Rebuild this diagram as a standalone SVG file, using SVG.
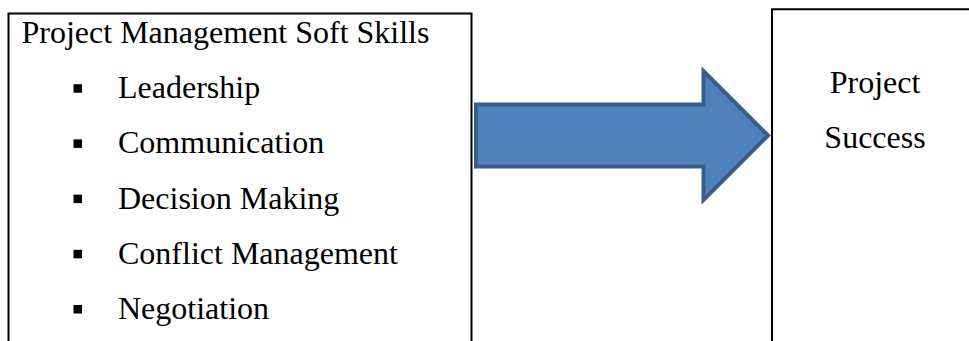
<svg xmlns="http://www.w3.org/2000/svg" width="969" height="341" viewBox="0 0 969 341">
  <style>
    .frame { fill: none; stroke: #000; stroke-width: 2; }
    .label { font-family: "Liberation Serif", "Times New Roman", serif; font-size: 32px; fill: #000; }
    .center { text-anchor: middle; }
    .bullet { fill: #000; }
    .arrow { fill: #4F81BD; stroke: #385D8A; stroke-width: 4; stroke-linejoin: miter; }
  </style>
  <rect width="969" height="341" fill="#fff"/>

  <!-- Skills box: open at the bottom -->
  <g id="soft-skills">
    <path class="frame" d="M8.5,345 V13.5 H471.5 V345"/>
    <text class="label" x="21.5" y="43">Project Management Soft Skills</text>
    <rect class="bullet" x="73.5" y="84.2" width="8.5" height="8.5"/>
    <text class="label" x="118" y="98.2">Leadership</text>
    <rect class="bullet" x="73.5" y="139.4" width="8.5" height="8.5"/>
    <text class="label" x="118" y="153.4">Communication</text>
    <rect class="bullet" x="73.5" y="194.6" width="8.5" height="8.5"/>
    <text class="label" x="118" y="208.6">Decision Making</text>
    <rect class="bullet" x="73.5" y="249.8" width="8.5" height="8.5"/>
    <text class="label" x="118" y="263.8">Conflict Management</text>
    <rect class="bullet" x="73.5" y="305" width="8.5" height="8.5"/>
    <text class="label" x="118" y="319">Negotiation</text>
  </g>

  <!-- Outcome box: open at the bottom and right -->
  <g id="project-success">
    <path class="frame" d="M772,345 V9.3 H975"/>
    <text class="label center" x="875" y="92.5">Project</text>
    <text class="label center" x="875" y="148">Success</text>
  </g>

  <g id="connectors">
    <path class="arrow" d="M476,104.5 H703.5 V71 L768,135.5 L703.5,200 V166.5 H476 Z"/>
  </g>
</svg>
